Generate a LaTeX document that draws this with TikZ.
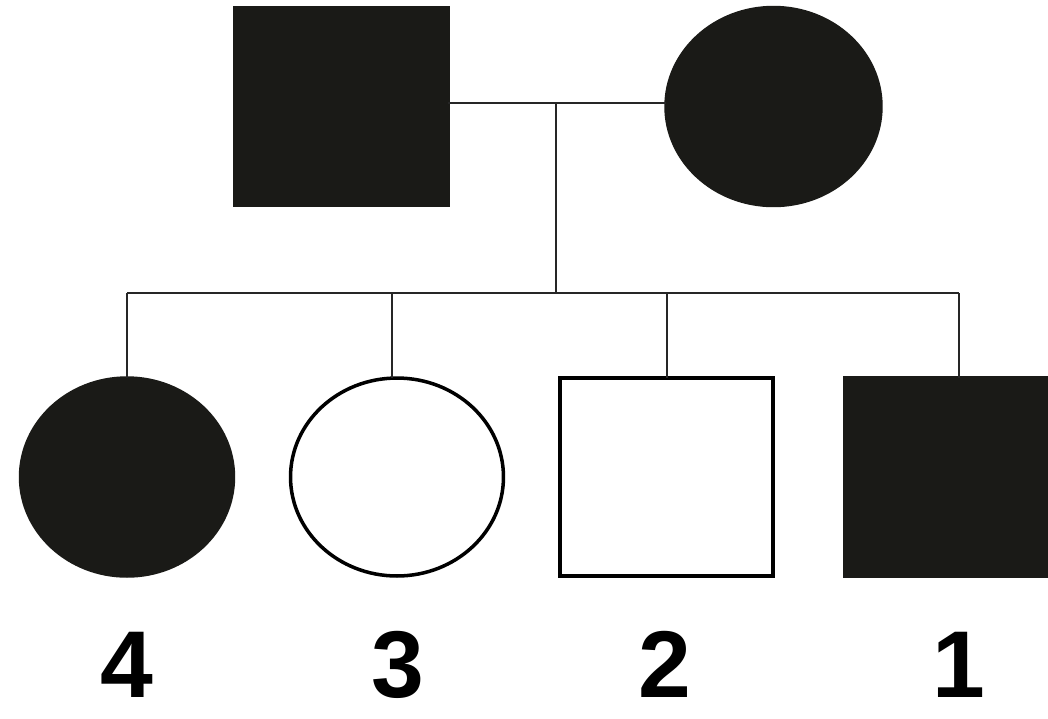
\documentclass[tikz,border=0pt]{standalone}
\usepackage{fontspec}
\setmainfont{Liberation Sans}
\usetikzlibrary{shapes.geometric,positioning}
\definecolor{darkfill}{HTML}{1A1A17}
\tikzset{
  male/.style={rectangle, minimum width=4.26cm, minimum height=3.96cm, inner sep=0pt, outer sep=0pt, line width=2pt},
  female/.style={ellipse, minimum width=4.26cm, minimum height=3.96cm, inner sep=0pt, outer sep=0pt, line width=2pt},
  affected/.style={fill=darkfill, draw=darkfill},
  unaffected/.style={fill=white, draw=black},
  link/.style={line width=1.6pt, draw=black!85},
  idlabel/.style={anchor=base, inner sep=1pt, font=\bfseries\fontsize{54}{58}\selectfont}
}

\begin{document}
\begin{tikzpicture}[x=0.02cm,y=-0.02cm]
        % Page size and background
        \fill[white] (0,0) rectangle (1048,718);
        \useasboundingbox (0,0) rectangle (1048,718);
        % Define coordinates
        \coordinate (mid) at (556,103);
        \coordinate (sib) at (556,293);
        \coordinate (s4) at (127,293);
        \coordinate (s3) at (392,293);
        \coordinate (s2) at (667,293);
        \coordinate (s1) at (959,293);
        % Parents
        \node[male, affected] (father) at (341.5,106.5) {};
        \node[female, affected, minimum width=4.3cm] (mother) at (773.5,106.5) {};
        % Children
        \node[female, affected] (c4) at (127,477) {};
        \node[female, unaffected] (c3) at (397,477) {};
        \node[male, unaffected] (c2) at (666.5,477) {};
        \node[male, affected, minimum width=4.22cm] (c1) at (950,477) {};
        % Marriage and descent lines
        \draw[link] (father.east |- mid) -- (mother.west |- mid);
        \draw[link] (mid) -- (sib);
        \draw[link] (s4) -- (s1);
        \foreach \k in {4,3,2,1}
          \draw[link] (s\k) -- (s\k |- c\k.north);
        % Labels
        \node[idlabel] (l4) at (127,697) {4};
        \node[idlabel] (l3) at (398,697) {3};
        \node[idlabel] (l2) at (665,697) {2};
        \node[idlabel] (l1) at (959,697) {1};
      \end{tikzpicture}
\end{document}
